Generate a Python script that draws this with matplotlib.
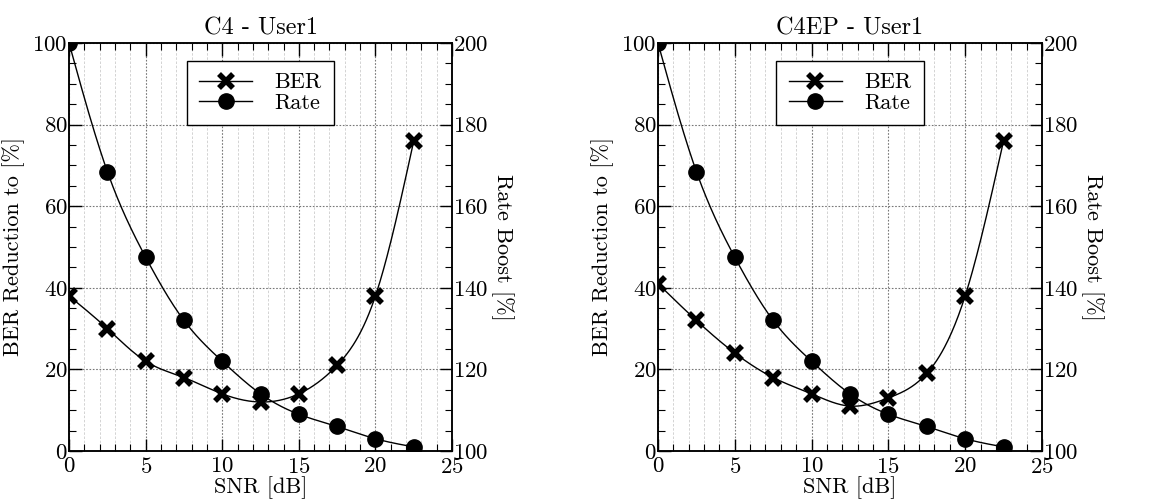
import numpy as np
import matplotlib
matplotlib.use("Agg")
import matplotlib.pyplot as plt
from matplotlib.ticker import MultipleLocator
from matplotlib.lines import Line2D

plt.rcParams['font.family'] = 'serif'
plt.rcParams['font.serif'] = ['cmr10']
plt.rcParams['axes.formatter.use_mathtext'] = True
plt.rcParams['axes.unicode_minus'] = False

snr = [0, 2.5, 5, 7.5, 10, 12.5, 15, 17.5, 20, 22.5]
titles = ["C4 - User1", "C4EP - User1"]
ber_c4 = [38, 30, 22, 18, 14, 12, 14, 21, 38, 76]
ber_c4ep = [41, 32, 24, 18, 14, 11, 13, 19, 38, 76]
rate_c4 = [200, 168.5, 147.5, 132, 122, 114, 109, 106, 103, 101]
rate_c4ep = [200, 168.5, 147.5, 132, 122, 114, 109, 106, 103, 101]


def spline(x, y, n=400):
    """Natural cubic spline used only to draw the smooth connecting line."""
    x = np.asarray(x, float); y = np.asarray(y, float)
    m = len(x)
    h = np.diff(x)
    A = np.zeros((m, m)); b = np.zeros(m)
    A[0, 0] = A[-1, -1] = 1
    for i in range(1, m - 1):
        A[i, i - 1] = h[i - 1]; A[i, i] = 2 * (h[i - 1] + h[i]); A[i, i + 1] = h[i]
        b[i] = 3 * ((y[i + 1] - y[i]) / h[i] - (y[i] - y[i - 1]) / h[i - 1])
    c = np.linalg.solve(A, b)
    xs = np.linspace(x[0], x[-1], n)
    idx = np.clip(np.searchsorted(x, xs) - 1, 0, m - 2)
    dx = xs - x[idx]
    bb = (y[idx + 1] - y[idx]) / h[idx] - h[idx] * (2 * c[idx] + c[idx + 1]) / 3
    dd = (c[idx + 1] - c[idx]) / (3 * h[idx])
    ys = y[idx] + bb * dx + c[idx] * dx ** 2 + dd * dx ** 3
    return xs, ys


fig = plt.figure(figsize=(11.76, 5.04), dpi=100)
positions = [[0.0587, 0.1052, 0.3257, 0.8095], [0.5595, 0.1052, 0.3265, 0.8095]]
bers = [ber_c4, ber_c4ep]
rates = [rate_c4, rate_c4ep]

for k in range(2):
    ax = fig.add_axes(positions[k])
    ax2 = ax.twinx()
    ax.set_xlim(0, 25); ax.set_ylim(0, 100)
    ax2.set_ylim(100, 200)
    ax.xaxis.set_major_locator(MultipleLocator(5))
    ax.xaxis.set_minor_locator(MultipleLocator(1))
    ax.yaxis.set_major_locator(MultipleLocator(20))
    ax.yaxis.set_minor_locator(MultipleLocator(5))
    ax2.yaxis.set_major_locator(MultipleLocator(20))
    ax2.yaxis.set_minor_locator(MultipleLocator(5))
    ax.grid(which='major', linestyle=(0, (1.5, 1.5)), color='#777777', linewidth=0.8)
    ax.grid(which='minor', axis='x', linestyle=(0, (3, 2)), color='#cccccc', linewidth=0.6)
    ax.tick_params(which='major', direction='in', length=9, width=1.0, top=True, right=False, labelsize=16.5)
    ax.tick_params(which='minor', direction='in', length=5, width=0.8, top=True, right=False)
    ax2.tick_params(which='major', direction='in', length=9, width=1.0, labelsize=16.5, pad=1)
    ax2.tick_params(which='minor', direction='in', length=5, width=0.8)
    ax.tick_params(axis='y', pad=1)
    ax.tick_params(axis='x', pad=4)
    for sp in list(ax.spines.values()) + list(ax2.spines.values()):
        sp.set_linewidth(1.1)

    xs, ys = spline(snr, bers[k])
    ax.plot(xs, ys, color='black', lw=1.0)
    ax.plot(snr, bers[k], linestyle='none', marker='x', ms=10.5, mew=4, color='black', clip_on=True)
    xr, yr = spline(snr, rates[k])
    ax2.plot(xr, yr, color='black', lw=1.0)
    ax2.plot(snr, rates[k], linestyle='none', marker='o', ms=11, color='black', clip_on=True)

    ax.set_title(titles[k], fontsize=17.5, pad=6)
    ax.set_xlabel("SNR [dB]", fontsize=16, labelpad=0)
    ax.set_ylabel("BER Reduction to [%]", fontsize=16, labelpad=5)
    ax2.set_ylabel("Rate Boost [%]", fontsize=16, rotation=270, labelpad=18)

    handles = [Line2D([], [], color='black', lw=1.0, marker='x', ms=10.5, mew=4),
               Line2D([], [], color='black', lw=1.0, marker='o', ms=11)]
    leg = ax2.legend(handles, ["BER", "Rate"], loc='upper center', bbox_to_anchor=(0.5, 0.957),
                     borderaxespad=0, fancybox=False, framealpha=1, edgecolor='black',
                     fontsize=16, handlelength=2.4, handletextpad=1.0, borderpad=0.55,
                     labelspacing=0.05)
    leg.get_frame().set_linewidth(1.0)

fig.savefig("out.png", dpi=100)
